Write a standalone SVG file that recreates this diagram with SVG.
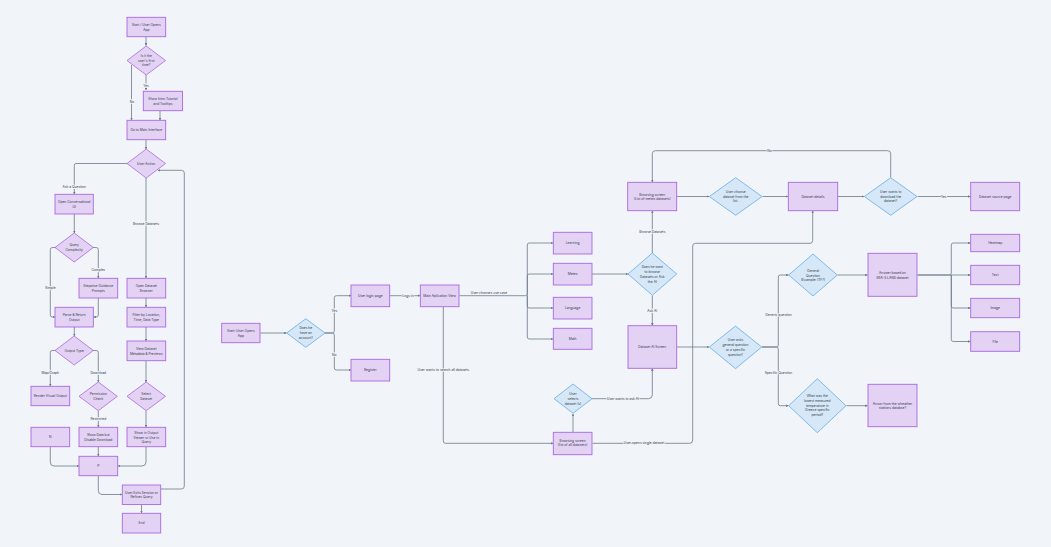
<svg xmlns="http://www.w3.org/2000/svg" width="1051" height="547" viewBox="0 0 1051 547">
<style>
text{font-family:"Inter","Liberation Sans",sans-serif;font-size:3.3px;fill:#333b47;text-anchor:middle}
.n rect{fill:#e4d2f5;stroke:#a968e0;stroke-width:.9}
.p polygon{fill:#e4d2f5;stroke:#a968e0;stroke-width:.8}
.b polygon{fill:#d6e8f7;stroke:#64abe9;stroke-width:.8}
#edges path{fill:none;stroke:#6d7888;stroke-width:.8;marker-end:url(#a)}
#labels text{paint-order:stroke;stroke:#f1f5f9;stroke-width:1.4px}
</style>
<defs><marker id="a" viewBox="0 0 6 6" refX="5.5" refY="3" markerWidth="2.6" markerHeight="2.6" markerUnits="userSpaceOnUse" orient="auto"><path d="M0 0L6 3L0 6z" fill="#6d7888"/></marker></defs>
<rect width="1051" height="547" fill="#f1f5f9"/>
<g id="edges">
<path d="M146 37V45.5"/>
<path d="M131.500 65V120"/>
<path d="M146 75V90"/>
<path d="M160 111V120"/>
<path d="M146 140V149"/>
<path d="M127 163.500H76Q74.300 163.500 74.300 165.500V194"/>
<path d="M146 178V278"/>
<path d="M74.300 214V233"/>
<path d="M56 247.500H52.300Q50.300 247.500 50.300 249.500V315Q50.300 317 52.300 317H55"/>
<path d="M92.500 247.500H96.300Q98.300 247.500 98.300 249.500V278"/>
<path d="M98.300 298V315Q98.300 317 96.300 317H93.500"/>
<path d="M74.300 327V336"/>
<path d="M146 298V307"/>
<path d="M146 327V341"/>
<path d="M146 361V382"/>
<path d="M146 411V427"/>
<path d="M56 350.500H52.300Q50.300 350.500 50.300 352.500V386"/>
<path d="M92.500 350.500H96.300Q98.300 350.500 98.300 352.500V382"/>
<path d="M98.300 411V427"/>
<path d="M98.300 447V456"/>
<path d="M50.300 447V462Q50.300 466 54 466H79"/>
<path d="M146 447V462Q146 466 142 466H118"/>
<path d="M98.300 476V490.500Q98.300 494.500 102 494.500H122"/>
<path d="M141.500 505V513"/>
<path d="M161 489H181.500Q184.300 489 184.300 486V173Q184.300 170.300 181.500 170.300H158"/>
<path d="M260.500 333H286.500"/>
<path d="M325 333H332.300Q334.300 333 334.300 331V297.500Q334.300 295.700 336.500 295.700H351"/>
<path d="M325 333H332.300Q334.300 333 334.300 335V368Q334.300 370 336.500 370H351"/>
<path d="M390 295.700H420"/>
<path d="M459.500 295.700H525.300Q527.300 295.700 527.300 293.700V245Q527.300 243 529.300 243H553"/>
<path d="M527.300 295.700V276Q527.300 274 529.300 274H553"/>
<path d="M527.300 295.700V306Q527.300 308 529.300 308H553"/>
<path d="M527.300 295.700V337Q527.300 339 529.300 339H553"/>
<path d="M443.300 307V441Q443.300 443.300 445.500 443.300H553"/>
<path d="M592 274H628"/>
<path d="M652.300 253V211"/>
<path d="M652.300 295.500V325.500"/>
<path d="M573 432V414"/>
<path d="M592 398.700H648.300Q652.300 398.700 652.300 395V368.500"/>
<path d="M592.500 443.300H689.700Q692.700 443.300 692.700 440V246Q692.700 243.300 695.700 243.300H810Q812.700 243.300 812.700 240.500V211"/>
<path d="M677 196.500H709"/>
<path d="M762.500 196.500H788"/>
<path d="M838 196.500H864"/>
<path d="M917.500 196.500H970.500"/>
<path d="M890.700 177.500V153.700Q890.700 150.700 887.700 150.700H655.300Q652.300 150.700 652.300 153.700V182"/>
<path d="M677 347H709"/>
<path d="M762 347H776.300Q778.300 347 778.300 345V277Q778.300 275 780.300 275H788.500"/>
<path d="M762 347H776.300Q778.300 347 778.300 349V403.700Q778.300 405.700 780.300 405.700H788.500"/>
<path d="M837.500 275H867.500"/>
<path d="M846.500 405.700H867.500"/>
<path d="M917.500 275H949.300Q951.300 275 951.300 273V245Q951.300 243 953.300 243H970.500"/>
<path d="M917.500 275H970.500"/>
<path d="M951.300 275V306Q951.300 308 953.300 308H970.500"/>
<path d="M951.300 275V339.500Q951.300 341.500 953.300 341.500H970.500"/>
</g>
<g id="labels">
<text x="146" y="87">Yes</text>
<text x="132" y="102.500">No</text>
<text x="74.300" y="188">Ask a Question</text>
<text x="146" y="224.500">Browse Datasets</text>
<text x="98.300" y="270.500">Complex</text>
<text x="50.300" y="288.800">Simple</text>
<text x="50.300" y="373.800">Map/Graph</text>
<text x="98.300" y="373.800">Download</text>
<text x="98.300" y="419.800">Restricted</text>
<text x="334.300" y="311.800">Yes</text>
<text x="334.300" y="356">No</text>
<text x="408" y="296.800">Logs in</text>
<text x="489" y="293.500">User chooses use case</text>
<text x="443.300" y="370.800">User wants to search all datasets</text>
<text x="652.300" y="232.800">Browse Datasets</text>
<text x="652.300" y="311.500">Ask AI</text>
<text x="623" y="399.800">User wants to ask AI</text>
<text x="644" y="444.400">User opens single dataset</text>
<text x="769.500" y="151.800">No</text>
<text x="943.500" y="197.600">Yes</text>
<text x="778.500" y="315.800">Generic question</text>
<text x="778.500" y="373.500">Specific Question</text>
</g>
<g id="n1" class="n"><rect x="127" y="17.300" width="38.700" height="19.400"/><text x="146.300" y="25.700">Start / User Opens</text><text x="146.300" y="30.500">App</text></g>
<g id="n2" class="p"><polygon points="146.200,46 165.500,60.500 146.200,75 127,60.500"/><text x="146.200" y="56.800">Is it the</text><text x="146.200" y="61.600">user's first</text><text x="146.200" y="66.400">time?</text></g>
<g id="n3" class="n"><rect x="143.300" y="91.300" width="39.200" height="19.400"/><text x="162.900" y="99.800">Show Intro Tutorial</text><text x="162.900" y="104.600">and Tooltips</text></g>
<g id="n4" class="n"><rect x="127" y="120.300" width="38.700" height="19.400"/><text x="146.300" y="131.100">Go to Main Interface</text></g>
<g id="n5" class="p"><polygon points="146.200,149 165.500,163.500 146.200,178 127,163.500"/><text x="146.200" y="164.600">User Action</text></g>
<g id="n6" class="n"><rect x="55" y="194.300" width="38.300" height="19.700"/><text x="74.200" y="203.100">Open Conversational</text><text x="74.200" y="207.900">UI</text></g>
<g id="n7" class="p"><polygon points="74.200,233 93.300,247.500 74.200,262 55,247.500"/><text x="74.200" y="246.200">Query</text><text x="74.200" y="251">Complexity</text></g>
<g id="n8" class="n"><rect x="79" y="278.300" width="38.700" height="19.700"/><text x="98.300" y="287.100">Stepwise Guidance</text><text x="98.300" y="291.900">Prompts</text></g>
<g id="n9" class="n"><rect x="55" y="307.300" width="38.300" height="19.700"/><text x="74.200" y="316.100">Parse &amp; Return</text><text x="74.200" y="320.900">Output</text></g>
<g id="n10" class="p"><polygon points="74.200,336 93.300,350.500 74.200,365 55,350.500"/><text x="74.200" y="351.600">Output Type</text></g>
<g id="n11" class="n"><rect x="127" y="278.300" width="38.700" height="19.700"/><text x="146.300" y="287.100">Open Dataset</text><text x="146.300" y="291.900">Browser</text></g>
<g id="n12" class="n"><rect x="127" y="307.300" width="38.700" height="19.700"/><text x="146.300" y="316.100">Filter by Location,</text><text x="146.300" y="320.900">Time, Data Type</text></g>
<g id="n13" class="n"><rect x="127" y="341" width="38.700" height="19.700"/><text x="146.300" y="349.800">View Dataset</text><text x="146.300" y="354.600">Metadata &amp; Previews</text></g>
<g id="n14" class="p"><polygon points="146.200,382 165.500,396.300 146.200,410.700 127,396.300"/><text x="146.200" y="395">Select</text><text x="146.200" y="399.800">Dataset</text></g>
<g id="n15" class="n"><rect x="31" y="386.300" width="38.700" height="19.400"/><text x="50.300" y="397.100">Render Visual Output</text></g>
<g id="n16" class="p"><polygon points="98.300,382 117.300,396.300 98.300,410.700 79,396.300"/><text x="98.300" y="395">Permission</text><text x="98.300" y="399.800">Check</text></g>
<g id="n17" class="n"><rect x="127" y="427.300" width="38.700" height="19.400"/><text x="146.300" y="433.800">Show in Output</text><text x="146.300" y="438.600">Viewer or Use in</text><text x="146.300" y="443.400">Query</text></g>
<g id="n18" class="n"><rect x="31" y="427.300" width="38.700" height="19.400"/><text x="50.300" y="438.100">N</text></g>
<g id="n19" class="n"><rect x="79" y="427.300" width="38.700" height="19.400"/><text x="98.300" y="436.300">Show Data but</text><text x="98.300" y="441.100">Disable Download</text></g>
<g id="n20" class="n"><rect x="79" y="456.300" width="38.700" height="19.400"/><text x="98.300" y="467.100">P</text></g>
<g id="n21" class="n"><rect x="122.300" y="485" width="38.400" height="19.500"/><text x="141.500" y="493.600">User Exits Session or</text><text x="141.500" y="498.400">Refines Query</text></g>
<g id="n22" class="n"><rect x="122.300" y="513.300" width="38.400" height="19.700"/><text x="141.500" y="524.200">End</text></g>
<g id="n23" class="n"><rect x="221.700" y="323.300" width="38.300" height="19.400"/><text x="240.900" y="331.800">Start: User Opens</text><text x="240.900" y="336.600">App</text></g>
<g id="n24" class="b"><polygon points="305.800,318.700 325,333 305.800,347.300 286.700,333"/><text x="305.800" y="329.300">Does he</text><text x="305.800" y="334.100">have an</text><text x="305.800" y="338.900">account?</text></g>
<g id="n25" class="n"><rect x="351" y="285" width="38.700" height="21.700"/><text x="370.300" y="297">User login page</text></g>
<g id="n26" class="n"><rect x="351" y="359.300" width="38.700" height="21.700"/><text x="370.300" y="371.300">Register</text></g>
<g id="n27" class="n"><rect x="420.300" y="285" width="38.700" height="21.700"/><text x="439.600" y="297">Main Aplication View</text></g>
<g id="n28" class="n"><rect x="553.300" y="232.300" width="38.700" height="21.700"/><text x="572.600" y="244.300">Learning</text></g>
<g id="n29" class="n"><rect x="553.300" y="263.300" width="38.700" height="21.700"/><text x="572.600" y="275.300">Meteo</text></g>
<g id="n30" class="n"><rect x="553.300" y="297.300" width="38.700" height="21.700"/><text x="572.600" y="309.300">Language</text></g>
<g id="n31" class="n"><rect x="553.300" y="328.300" width="38.700" height="21"/><text x="572.600" y="339.900">Math</text></g>
<g id="n32" class="b"><polygon points="652.300,253 676.700,274 652.300,295.300 628,274"/><text x="652.300" y="268.400">Does he want</text><text x="652.300" y="273.200">to browse</text><text x="652.300" y="278">Datasets or Ask</text><text x="652.300" y="282.800">the AI</text></g>
<g id="n33" class="n"><rect x="628" y="325.700" width="48.700" height="42.600"/><text x="652.300" y="348.100">Dataset AI Screen</text></g>
<g id="n34" class="b"><polygon points="573,384 592,398.700 573,413.300 554,398.700"/><text x="573" y="395">User</text><text x="573" y="399.800">selects</text><text x="573" y="404.600">dataset (s)</text></g>
<g id="n35" class="n"><rect x="553.300" y="432.300" width="38.700" height="22.400"/><text x="572.600" y="441.500">Browsing screen</text><text x="572.600" y="446.300">(list of all datasets)</text></g>
<g id="n36" class="n"><rect x="627.700" y="182.300" width="49" height="28.400"/><text x="652.200" y="195.500">Browsing screen</text><text x="652.200" y="200.300">(List of meteo datasets)</text></g>
<g id="n37" class="b"><polygon points="735.700,177.700 762,196.500 735.700,215.300 709.300,196.500"/><text x="735.700" y="192.800">User choose</text><text x="735.700" y="197.600">dataset from the</text><text x="735.700" y="202.400">list.</text></g>
<g id="n38" class="n"><rect x="788.300" y="182.300" width="49.400" height="28.400"/><text x="813" y="197.600">Dataset details</text></g>
<g id="n39" class="b"><polygon points="890.700,177.700 917,196.500 890.700,215.300 864.300,196.500"/><text x="890.700" y="192.800">User wants to</text><text x="890.700" y="197.600">download the</text><text x="890.700" y="202.400">dataset?</text></g>
<g id="n40" class="n"><rect x="970.700" y="182.300" width="49" height="28.400"/><text x="995.200" y="197.600">Dataset source page</text></g>
<g id="n41" class="b"><polygon points="735.500,326 761.700,347 735.500,368.700 709.300,347"/><text x="735.500" y="341.400">User asks</text><text x="735.500" y="346.200">general question</text><text x="735.500" y="351">or a specific</text><text x="735.500" y="355.800">question?</text></g>
<g id="n42" class="b"><polygon points="813,254 837.300,275 813,296 788.700,275"/><text x="813" y="271.800">General</text><text x="813" y="276.600">Question</text><text x="813" y="281.400">(Example: ITF?)</text></g>
<g id="n43" class="b"><polygon points="817.300,378.700 846,405.700 817.300,432.700 788.700,405.700"/><text x="817.300" y="397">What was the</text><text x="817.300" y="401.800">lowest measured</text><text x="817.300" y="406.600">temperature in</text><text x="817.300" y="411.400">Greece specific</text><text x="817.300" y="416.200">period?</text></g>
<g id="n44" class="n"><rect x="868" y="253.300" width="49" height="43"/><text x="892.500" y="274">Answer based on</text><text x="892.500" y="278.800">ERA-5 LAND dataset</text></g>
<g id="n45" class="n"><rect x="868" y="384.300" width="49" height="42.400"/><text x="892.500" y="404.600">Answr from the wheather</text><text x="892.500" y="409.400">stations databse?</text></g>
<g id="n46" class="n"><rect x="970.700" y="234.300" width="49" height="17.400"/><text x="995.200" y="244.100">Heatmap</text></g>
<g id="n47" class="n"><rect x="970.700" y="265.300" width="49" height="19.400"/><text x="995.200" y="276.100">Text</text></g>
<g id="n48" class="n"><rect x="970.700" y="298.300" width="49" height="19.400"/><text x="995.200" y="309.100">Image</text></g>
<g id="n49" class="n"><rect x="970.700" y="331.700" width="49" height="19.600"/><text x="995.200" y="342.600">File</text></g>
</svg>
